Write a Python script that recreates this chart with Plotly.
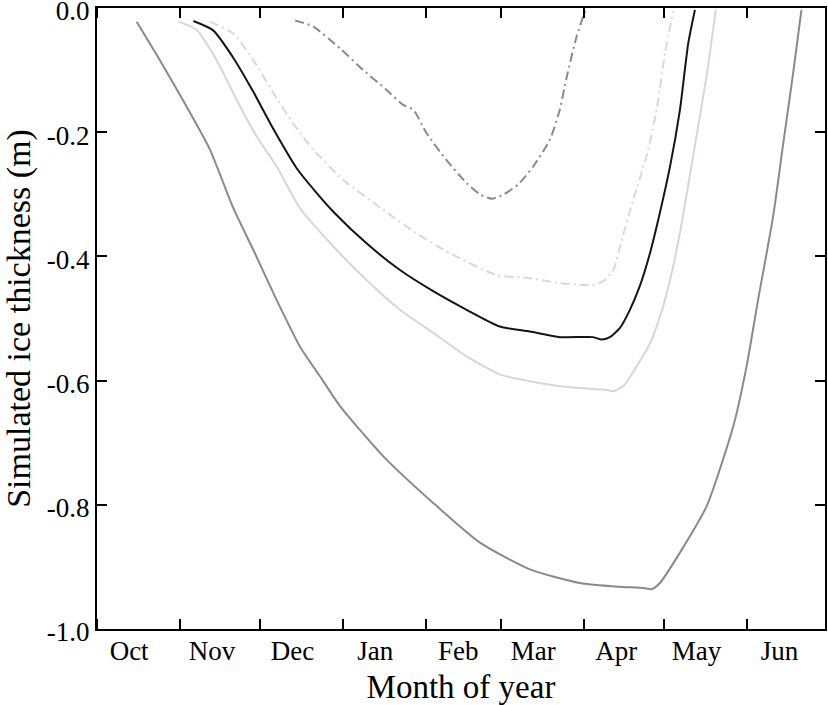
import plotly.graph_objects as go

# x values are days counted from 1 October, y values are ice thickness (m, negative downwards)
month_names = ["Oct", "Nov", "Dec", "Jan", "Feb", "Mar", "Apr", "May", "Jun"]
month_starts = [0, 31, 61, 92, 123, 151, 182, 212, 243, 273]
label_days = [12, 43, 73, 104, 135, 163, 194, 224, 255]

y_ticks = [0.0, -0.2, -0.4, -0.6, -0.8, -1.0]
y_labels = ["0.0", "-0.2", "-0.4", "-0.6", "-0.8", "-1.0"]

# dark grey solid (thickest ice)
days_a = [14.8, 23.5, 33.5, 42.2, 50.9, 59.0, 67.1, 75.8, 83.3, 90.8, 107.0, 125.6,
          143.1, 161.7, 180.4, 195.0, 204.1, 207.2, 210.3, 217.8, 227.8, 237.7,
          242.7, 247.0, 252.6, 256.4, 260.1, 263.2]
ice_a = [-0.022, -0.084, -0.159, -0.228, -0.322, -0.395, -0.470, -0.545, -0.593, -0.641,
         -0.722, -0.797, -0.861, -0.904, -0.926, -0.932, -0.934, -0.936, -0.926, -0.877,
         -0.802, -0.674, -0.577, -0.470, -0.336, -0.218, -0.105, -0.003]

# light lavender solid
days_b = [30.4, 37.2, 44.7, 52.2, 59.7, 67.1, 75.8, 88.3, 100.7, 113.2, 125.6, 138.1,
          150.5, 161.7, 173.0, 180.4, 190.4, 192.9, 196.6, 201.6, 206.6, 210.5, 214.1,
          217.8, 222.7, 227.7, 231.2]
ice_b = [-0.022, -0.035, -0.084, -0.148, -0.207, -0.255, -0.322, -0.384, -0.438, -0.486,
         -0.523, -0.561, -0.590, -0.601, -0.609, -0.612, -0.615, -0.617, -0.609, -0.577,
         -0.540, -0.495, -0.438, -0.362, -0.239, -0.111, -0.003]

# black solid
days_c = [36.0, 43.4, 50.9, 58.4, 65.9, 74.6, 82.1, 88.3, 100.7, 113.2, 125.6, 138.1,
          150.5, 161.7, 173.0, 185.4, 188.5, 191.6, 195.4, 199.1, 202.8, 206.6, 209.1,
          214.1, 217.8, 220.9, 223.4]
ice_c = [-0.021, -0.036, -0.080, -0.135, -0.195, -0.258, -0.298, -0.328, -0.379, -0.422,
         -0.456, -0.486, -0.513, -0.521, -0.530, -0.530, -0.534, -0.530, -0.515, -0.486,
         -0.448, -0.395, -0.352, -0.255, -0.164, -0.057, -0.003]

# light grey dash-dot
days_d = [42.2, 50.9, 58.4, 65.9, 73.3, 80.8, 92.0, 107.0, 119.4, 131.9, 149.3, 161.7,
          173.0, 185.4, 189.1, 192.9, 195.8, 200.3, 205.3, 209.1, 212.2, 215.3]
ice_d = [-0.022, -0.041, -0.084, -0.137, -0.186, -0.228, -0.277, -0.325, -0.363, -0.395,
         -0.430, -0.435, -0.443, -0.446, -0.440, -0.422, -0.378, -0.309, -0.239, -0.164,
         -0.073, -0.005]

# grey dash-dot (thinnest ice)
days_e = [74.0, 80.8, 90.8, 99.5, 108.2, 114.4, 118.2, 123.2, 130.6, 138.1, 143.1,
          147.5, 152.0, 157.4, 163.0, 169.2, 172.9, 175.5, 179.2, 182.5]
ice_e = [-0.020, -0.030, -0.065, -0.100, -0.132, -0.156, -0.164, -0.202, -0.245, -0.282,
         -0.300, -0.307, -0.300, -0.284, -0.255, -0.212, -0.164, -0.111, -0.046, -0.003]

dashdot = "9px,4px,2px,4px"
series = [
    (days_a, ice_a, "#8a8a8a", "solid"),
    (days_b, ice_b, "#d3d5e3", "solid"),
    (days_d, ice_d, "#d6d8e2", dashdot),
    (days_e, ice_e, "#8a8a8a", dashdot),
    (days_c, ice_c, "#151515", "solid"),
]

fig = go.Figure()
for xs, ys, col, dash in series:
    fig.add_trace(go.Scatter(x=xs, y=ys, mode="lines", showlegend=False,
                             line=dict(color=col, width=2, dash=dash,
                                       shape="spline", smoothing=0.6)))

font_name = "Liberation Serif"
fig.update_layout(
    width=828, height=705,
    margin=dict(l=97, r=3, t=8, b=76),
    plot_bgcolor="white", paper_bgcolor="white",
    font=dict(family=font_name, color="black", size=27),
    xaxis=dict(
        range=[0, 272], automargin=False,
        tickmode="array", tickvals=label_days, ticktext=month_names,
        ticks="", showgrid=False, zeroline=False,
        showline=True, linecolor="black", linewidth=2, mirror="ticks",
        minor=dict(tickmode="array", tickvals=month_starts, ticks="inside",
                   ticklen=10, tickwidth=1.5, tickcolor="black", showgrid=False),
        tickfont=dict(size=27), ticklabelstandoff=-3,
        title=dict(text="Month of year", font=dict(size=33), standoff=9),
    ),
    yaxis=dict(
        range=[-1.0, 0.0], automargin=False, ticklabeloverflow="allow",
        tickmode="array", tickvals=y_ticks, ticktext=y_labels,
        ticks="inside", ticklen=10, tickwidth=1.5, tickcolor="black",
        showgrid=False, zeroline=False,
        showline=True, linecolor="black", linewidth=2, mirror="ticks",
        tickfont=dict(size=27), ticklabelshift=3,
        title=dict(text="Simulated ice thickness (m)", font=dict(size=34), standoff=19),
    ),
)

# the page body has an 8px default margin; drop it so the figure sits at the window corner
fig.write_html("out.html", config={"displayModeBar": False},
               post_script="document.body.style.margin = '0';")
